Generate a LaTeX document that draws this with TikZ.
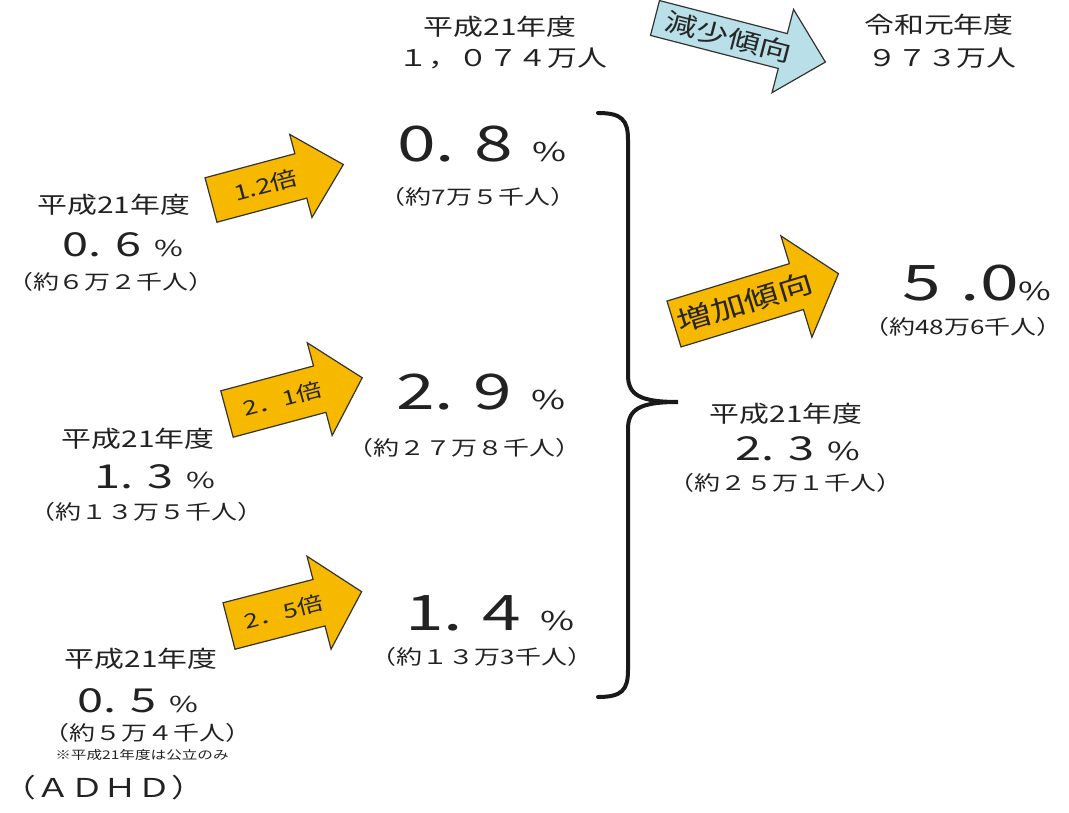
\documentclass[tikz,border=0pt]{standalone}
\usepackage{fontspec}
\setmainfont{Noto Sans CJK JP}[FakeStretch=1.3]
\newfontfamily\numfont{Noto Sans CJK JP}[FakeStretch=1.42]
\definecolor{txt}{HTML}{222222}
\definecolor{gold}{HTML}{F7B900}
\definecolor{ice}{HTML}{B9E0E8}
\newcommand\fs[1]{\fontsize{#1}{#1}\selectfont}
\tikzset{
  lbl/.style={text=txt,inner sep=0pt,font=\fs{23}},
  paren/.style={text=txt,inner sep=0pt,font=\fs{20}},
  num/.style={text=txt,inner sep=0pt,font=\numfont},
  arrowline/.style={draw=black!80,line width=1.2pt,line join=miter},
  arrowlabel/.style={text=black!85,inner sep=0pt},
  bracestyle/.style={draw=black!90,line width=4pt,line cap=round}
}
\newcommand\fatarrow[9]{%
  \begin{scope}[shift={(#2,#3)},rotate=#4]
    \draw[arrowline,fill=#8] (0,-#6) -- ({#5-44},-#6) -- ({#5-44},-#7) -- (#5,0)
      -- ({#5-44},#7) -- ({#5-44},#6) -- (0,#6) -- cycle;
    \node[arrowlabel,rotate=#4] (#1) at ({(#5-44)/2+10},0) {#9};
  \end{scope}}
\begin{document}
\begin{tikzpicture}[x=1pt,y=-1pt]
\useasboundingbox[fill=white] (0,0) rectangle (1069,813);

% top row
\node[lbl] (t1) at (500,27) {平成21年度};
\node[lbl] (t2) at (503,58) {１，０７４万人};
\node[lbl] (t3) at (939,25) {令和元年度};
\node[lbl] (t4) at (942,58) {９７３万人};
\fatarrow{dec}{655}{18}{-14.5}{176}{18}{43}{ice}{\fs{25}減少傾向}

% left block 1
\node[lbl] (a1) at (114,205) {平成21年度};
\node[num] (a2) at (123,245) {\fs{33}0.\hspace{0.4em}6\hspace{0.4em}\fs{22}\%};
\node[paren] (a3) at (111,282) {（約６万２千人）};
\fatarrow{ar1}{211}{200}{15}{137}{23}{43}{gold}{\fs{21}1.2倍}

% left block 2
\node[lbl] (b1) at (138,439) {平成21年度};
\node[num] (b2) at (155,477) {\fs{33}1.\hspace{0.4em}3\hspace{0.4em}\fs{22}\%};
\node[paren] (b3) at (147,512) {（約１３万５千人）};
\fatarrow{ar2}{227}{414}{15}{140}{24}{48}{gold}{\fs{20}2．1倍}

% left block 3
\node[lbl] (c1) at (141,659) {平成21年度};
\node[num] (c2) at (138,701) {\fs{33}0.\hspace{0.4em}5\hspace{0.4em}\fs{22}\%};
\node[paren] (c3) at (147,733) {（約５万４千人）};
\node[text=txt,inner sep=0pt,font=\fs{12}] (c4) at (142,755) {※平成21年度は公立のみ};
\node[text=txt,inner sep=0pt,font=\fs{26}] (c5) at (104,788) {（ＡＤＨＤ）};
\fatarrow{ar3}{229}{626}{14.5}{137}{24}{48}{gold}{\fs{20}2．5倍}

% middle column
\node[num] (m1) at (482,144) {\fs{49}0.\hspace{0.4em}8\hspace{0.4em}\fs{26}\%};
\node[paren] (m1p) at (478,197) {（約7万５千人）};
\node[num] (m2) at (481,392) {\fs{49}2.\hspace{0.4em}9\hspace{0.4em}\fs{26}\%};
\node[paren] (m2p) at (464,448) {（約２７万８千人）};
\node[num] (m3) at (490,613) {\fs{49}1.\hspace{0.4em}4\hspace{0.4em}\fs{26}\%};
\node[paren] (m3p) at (482,657) {（約１３万3千人）};

% brace
\draw[bracestyle] (598,113) .. controls (622,113) and (628,120) .. (628,140)
  -- (628,375) .. controls (628,395) and (640,402) .. (678,402)
  .. controls (640,402) and (628,409) .. (628,429)
  -- (628,670) .. controls (628,690) and (622,697) .. (598,697);

% right column
\node[lbl] (r1) at (786,414) {平成21年度};
\node[num] (r2) at (798,449) {\fs{33}2.\hspace{0.4em}3\hspace{0.4em}\fs{25}\%};
\node[paren] (r3) at (785,483) {（約２５万１千人）};
\fatarrow{inc}{674}{324}{17}{172}{24}{53}{gold}{\fs{27}増加傾向}
\node[num] (r4) at (977,283) {\fs{49}5\hspace{0.4em}.0\fs{25}\%};
\node[paren] (r5) at (963,327) {（約48万6千人）};
\end{tikzpicture}
\end{document}
